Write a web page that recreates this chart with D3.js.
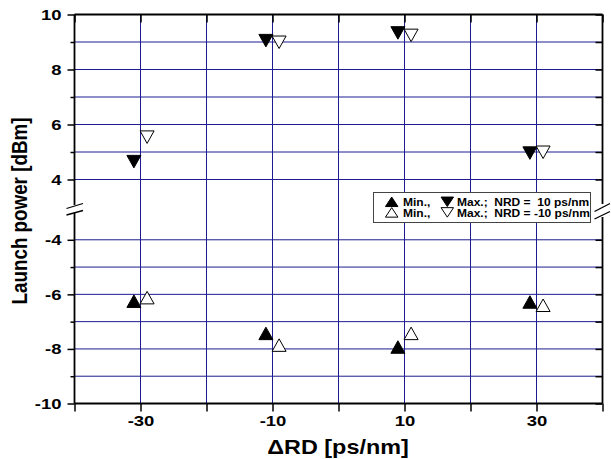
<!DOCTYPE html>
<html>
<head>
<meta charset="utf-8">
<script src="https://cdn.jsdelivr.net/npm/d3@7"></script>
<style>
  body { margin: 0; background: #fff; }
  svg { display: block; }
  text { font-family: "Liberation Sans", Arial, sans-serif; font-weight: bold; }
</style>
</head>
<body>
<svg id="chart" width="611" height="459"></svg>
<script>
//:\\\ data //:\\\

// x positions (ps/nm) of the two series, slightly shifted around each RD value
var rdFilled = [-31, -11, 9, 29];
var rdOpen = [-29, -9, 11, 31];

// launch power (dBm), NRD = 10 ps/nm (filled) and NRD = -10 ps/nm (open)
var maxFilled = [4.65, 9.05, 9.33, 4.96];
var maxOpen = [5.54, 8.99, 9.24, 4.99];
var minFilled = [-6.25, -7.43, -7.93, -6.28];
var minOpen = [-6.12, -7.86, -7.43, -6.40];

var xTicks = [-40, -30, -20, -10, 0, 10, 20, 30, 40];
var xLabels = [-30, -10, 10, 30];
var xGrid = [-30, -20, -10, 0, 10, 20, 30];
var yTopMajor = [4, 6, 8, 10];
var yTopMinor = [5, 7, 9];
var yBotMajor = [-10, -8, -6, -4];
var yBotMinor = [-9, -7, -5];

var legendRows = [
  { fill: "#000", min: "Min.,", max: "Max.;  NRD =  10 ps/nm" },
  { fill: "#fff", min: "Min.,", max: "Max.;  NRD = -10 ps/nm" }
];

//:\\\ layout //:\\\

var svg = d3.select("#chart");
var pLeft = 74.5, pRight = 602.5, pTop = 14.5, pBottom = 403.5;
var gridColor = "#1c1c90";
var stretch = "scale(1.2,1)"; // glyphs in the reference are a bit wide

var x = d3.scaleLinear().domain([-40, 40]).range([pLeft, pRight]);
// broken y axis: two segments
var yTop = d3.scaleLinear().domain([3, 10]).range([207, pTop]);
var yBot = d3.scaleLinear().domain([-10, -3]).range([pBottom, 212.5]);

function yPos(v) {
  return v >= 0 ? yTop(v) : yBot(v);
}

// grid
svg.append("g").selectAll("line")
  .data(xGrid)
  .enter().append("line")
  .attr("x1", function(d) { return x(d); })
  .attr("x2", function(d) { return x(d); })
  .attr("y1", pTop).attr("y2", pBottom)
  .attr("stroke", gridColor).attr("stroke-width", 1);

var hGrid = yTopMajor.concat(yTopMinor).filter(function(d) { return d != 10; })
  .concat(yBotMajor.concat(yBotMinor).filter(function(d) { return d != -10; }));

svg.append("g").selectAll("line")
  .data(hGrid)
  .enter().append("line")
  .attr("x1", pLeft).attr("x2", pRight)
  .attr("y1", function(d) { return yPos(d); })
  .attr("y2", function(d) { return yPos(d); })
  .attr("stroke", gridColor).attr("stroke-width", 1);

// axes
function styleAxis(g) {
  g.select(".domain").remove();
  g.selectAll(".tick line").attr("stroke", "#000").attr("stroke-width", 1.5);
  g.selectAll("text").attr("fill", "#000").style("font-size", "15.4px");
}

// plain hyphen minus like the original
var fmt = function(d) { return String(d); };

var xAxis = svg.append("g")
  .attr("transform", "translate(0," + pBottom + ")")
  .call(d3.axisBottom(x).tickValues(xTicks).tickSize(8).tickPadding(3.6).tickSizeOuter(0)
    .tickFormat(function(d) { return xLabels.indexOf(d) >= 0 ? fmt(d) : ""; }))
  .call(styleAxis);
xAxis.selectAll("text").attr("transform", stretch);

svg.append("g")
  .attr("transform", "translate(0," + pTop + ")")
  .call(d3.axisTop(x).tickValues(xTicks).tickSize(-8).tickFormat("").tickSizeOuter(0))
  .call(styleAxis);

[[yTop, yTopMajor, yTopMinor], [yBot, yBotMajor, yBotMinor]].forEach(function(seg) {
  var yl = svg.append("g")
    .attr("transform", "translate(" + pLeft + ",0)")
    .call(d3.axisLeft(seg[0]).tickValues(seg[1]).tickSize(7).tickPadding(3.8).tickSizeOuter(0).tickFormat(fmt))
    .call(styleAxis);
  yl.selectAll("text").attr("transform", stretch);

  svg.append("g")
    .attr("transform", "translate(" + pLeft + ",0)")
    .call(d3.axisLeft(seg[0]).tickValues(seg[2]).tickSize(4).tickFormat("").tickSizeOuter(0))
    .call(styleAxis);

  svg.append("g")
    .attr("transform", "translate(" + pRight + ",0)")
    .call(d3.axisRight(seg[0]).tickValues(seg[1].concat(seg[2])).tickSize(-7).tickFormat("").tickSizeOuter(0))
    .call(styleAxis);
});

// frame with gaps at the break
var frame = [
  [pLeft, pTop, pRight, pTop],
  [pLeft, pBottom, pRight, pBottom],
  [pLeft, pTop, pLeft, 205],
  [pLeft, 213, pLeft, pBottom],
  [pRight, pTop, pRight, 204],
  [pRight, 217, pRight, pBottom]
];
svg.append("g").selectAll("line")
  .data(frame)
  .enter().append("line")
  .attr("x1", function(d) { return d[0]; })
  .attr("y1", function(d) { return d[1]; })
  .attr("x2", function(d) { return d[2]; })
  .attr("y2", function(d) { return d[3]; })
  .attr("stroke", "#000").attr("stroke-width", 1.8);

// break marks
var breaks = [
  [66.5, 208.5, 83, 203.5], [66.5, 215, 83, 210.5],
  [594.5, 211.5, 610, 203.5], [594.5, 219, 610, 211.5]
];
svg.append("g").selectAll("line")
  .data(breaks)
  .enter().append("line")
  .attr("x1", function(d) { return d[0]; })
  .attr("y1", function(d) { return d[1]; })
  .attr("x2", function(d) { return d[2]; })
  .attr("y2", function(d) { return d[3]; })
  .attr("stroke", "#000").attr("stroke-width", 1.3);

//:\\\ markers //:\\\

function triangle(w, h, up) {
  // triangle centered on its bounding box
  if (up) return "M0," + (-h / 2) + "L" + (w / 2) + "," + (h / 2) + "L" + (-w / 2) + "," + (h / 2) + "Z";
  return "M0," + (h / 2) + "L" + (w / 2) + "," + (-h / 2) + "L" + (-w / 2) + "," + (-h / 2) + "Z";
}

var series = [
  { xs: rdFilled, ys: maxFilled, up: false, fill: "#000" },
  { xs: rdOpen, ys: maxOpen, up: false, fill: "#fff" },
  { xs: rdFilled, ys: minFilled, up: true, fill: "#000" },
  { xs: rdOpen, ys: minOpen, up: true, fill: "#fff" }
];

series.forEach(function(s) {
  svg.append("g").selectAll("path")
    .data(s.ys)
    .enter().append("path")
    .attr("d", triangle(14, 12.5, s.up))
    .attr("transform", function(d, i) { return "translate(" + x(s.xs[i]) + "," + yPos(d) + ")"; })
    .attr("fill", s.fill)
    .attr("stroke", "#000")
    .attr("stroke-width", 1);
});

//:\\\ legend //:\\\

var legend = svg.append("g");
legend.append("rect")
  .attr("x", 373.5).attr("y", 192.5)
  .attr("width", 217).attr("height", 30)
  .attr("fill", "#fff").attr("stroke", "#444").attr("stroke-width", 1);

legendRows.forEach(function(r, i) {
  var cy = 201.8 + i * 10.6;
  legend.append("path")
    .attr("d", triangle(12.5, 9.5, true))
    .attr("transform", "translate(391.7," + cy + ")")
    .attr("fill", r.fill).attr("stroke", "#000").attr("stroke-width", 1);
  legend.append("path")
    .attr("d", triangle(12.5, 9.5, false))
    .attr("transform", "translate(447.3," + cy + ")")
    .attr("fill", r.fill).attr("stroke", "#000").attr("stroke-width", 1);
  legend.append("text")
    .attr("transform", "translate(403," + (cy + 4.2) + ") " + stretch)
    .style("font-size", "10px")
    .style("white-space", "pre")
    .text(r.min);
  legend.append("text")
    .attr("transform", "translate(457," + (cy + 4.2) + ") " + stretch)
    .style("font-size", "10px")
    .style("white-space", "pre")
    .text(r.max);
});

//:\\\ titles //:\\\

svg.append("text")
  .attr("transform", "translate(338,454) " + stretch)
  .attr("text-anchor", "middle")
  .style("font-size", "19.5px")
  .text("\u0394RD [ps/nm]");

svg.append("text")
  .attr("transform", "translate(27,211) " + stretch + " rotate(-90)")
  .attr("text-anchor", "middle")
  .style("font-size", "18.8px")
  .text("Launch power [dBm]");
</script>
</body>
</html>
